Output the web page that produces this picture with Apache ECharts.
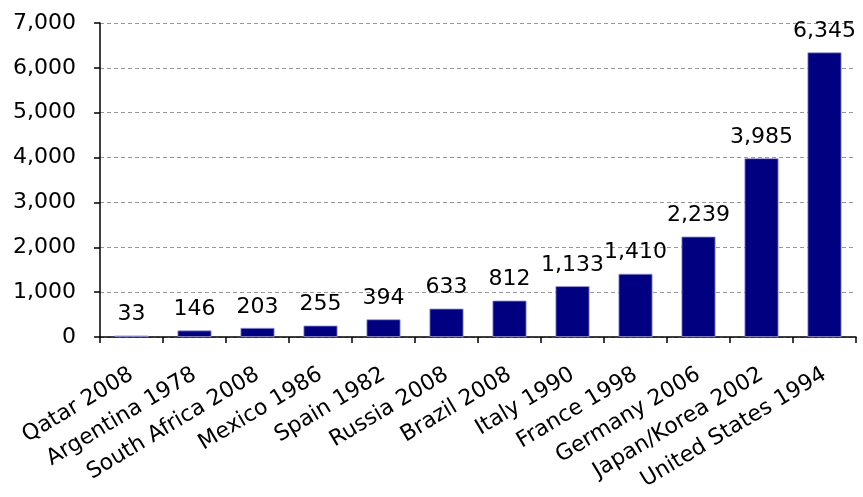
<!DOCTYPE html>
<html>
<head>
<meta charset="utf-8">
<script src="https://cdn.jsdelivr.net/npm/echarts@6/dist/echarts.min.js"></script>
<style>
  html, body { margin: 0; padding: 0; background: #fff; }
  #chart { width: 863px; height: 497px; }
</style>
</head>
<body>
<div id="chart"></div>
<script>
const categories = ['Qatar 2008', 'Argentina 1978', 'South Africa 2008', 'Mexico 1986', 'Spain 1982',
  'Russia 2008', 'Brazil 2008', 'Italy 1990', 'France 1998', 'Germany 2006', 'Japan/Korea 2002', 'United States 1994']
const values = [33, 146, 203, 255, 394, 633, 812, 1133, 1410, 2239, 3985, 6345]
const yTicks = [0, 1000, 2000, 3000, 4000, 5000, 6000, 7000]

const font = '"DejaVu Sans", sans-serif'
const fmt = v => v.toLocaleString('en-US')

const chart = echarts.init(document.getElementById('chart'))
chart.setOption({
  animation: false,
  title: {
    text: '(US$ mn)',
    left: 390,
    top: -28,
    textStyle: { color: '#1f5fa8', fontSize: 25, fontWeight: 'normal', fontFamily: font }
  },
  grid: { left: 100, right: 7, top: 23, bottom: 160 },
  xAxis: {
    type: 'category',
    data: categories,
    axisLine: { lineStyle: { color: '#000', width: 1.5 } },
    axisTick: { show: true, length: 6, lineStyle: { color: '#000', width: 1.5 } },
    axisLabel: {
      rotate: 31, interval: 0, margin: 36,
      color: '#000', fontSize: 22, fontFamily: font
    }
  },
  yAxis: {
    type: 'value',
    min: yTicks[0],
    max: yTicks[yTicks.length - 1],
    interval: 1000,
    axisLine: { show: true, lineStyle: { color: '#000', width: 1.5 } },
    axisTick: { show: true, length: 6, lineStyle: { color: '#000', width: 1.5 } },
    splitLine: { lineStyle: { color: '#999', type: [4, 3], width: 1 } },
    axisLabel: {
      color: '#000', fontSize: 22, fontFamily: font, margin: 24,
      formatter: fmt
    }
  },
  series: [{
    type: 'bar',
    data: values,
    barWidth: '54%',
    itemStyle: { color: '#000080', borderColor: '#9a9ad8', borderWidth: 0.8 },
    label: {
      show: true, position: 'top', distance: 10,
      color: '#000', fontSize: 22, fontFamily: font,
      formatter: p => fmt(p.value)
    }
  }]
})
</script>
</body>
</html>
